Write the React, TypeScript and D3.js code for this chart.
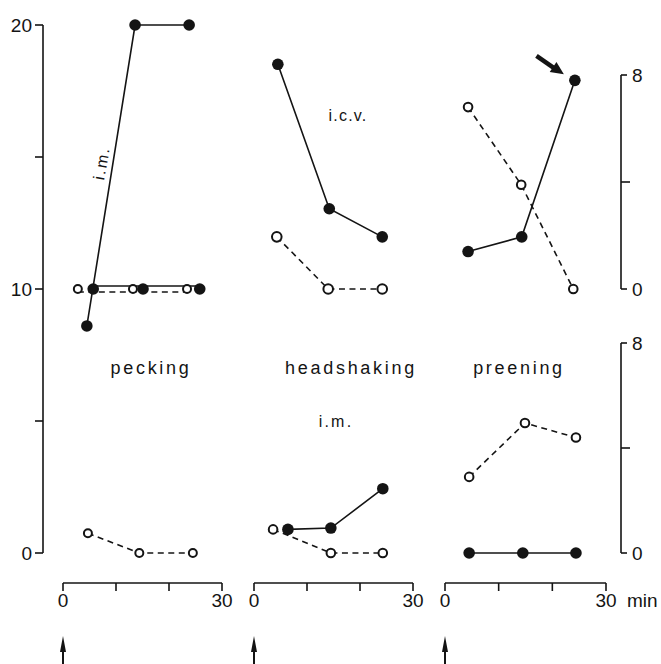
import React from "react";
import * as d3 from "d3";

// ---- data (times in min, values in axis units) ----
const panels = ["pecking", "headshaking", "preening"];
const xTicks = [0, 10, 20, 30];
const leftTicks = [0, 5, 10, 15, 20];
const leftLabels = [0, 10, 20];
const rightTicks = [0, 4, 8];
const rightLabels = [0, 8];

// pecking (left axis 0-20)
const peckImT = [4.5, 13.6, 23.8];
const peckImV = [8.6, 20, 20];
const peckFilledT = [5.7, 15.1, 25.8];
const peckFilledV = [10, 10, 10];
const peckOpenT = [2.8, 13.2, 23.4];
const peckOpenV = [10, 10, 10];
const peckLowOpenT = [4.7, 14.4, 24.5];
const peckLowOpenV = [0.75, 0, 0];

// headshaking upper (right upper axis 0-8)
const headUpFilledT = [4.5, 14.2, 24.2];
const headUpFilledV = [8.4, 3.0, 1.95];
const headUpOpenT = [4.3, 14.0, 24.2];
const headUpOpenV = [1.95, 0, 0];
// headshaking lower (right lower axis 0-8)
const headLowFilledT = [6.4, 14.5, 24.3];
const headLowFilledV = [0.9, 0.95, 2.45];
const headLowOpenT = [3.6, 14.5, 24.3];
const headLowOpenV = [0.9, 0, 0];

// preening upper
const preUpFilledT = [4.3, 14.3, 24.2];
const preUpFilledV = [1.4, 1.95, 7.8];
const preUpOpenT = [4.3, 14.2, 23.9];
const preUpOpenV = [6.8, 3.9, 0];
// preening lower
const preLowFilledT = [4.5, 14.5, 24.4];
const preLowFilledV = [0, 0, 0];
const preLowOpenT = [4.5, 14.9, 24.4];
const preLowOpenV = [2.9, 4.95, 4.4];

const INK = "#141414";
const FONT = "'Liberation Sans', Arial, sans-serif";

export default function App() {
  const W = 661, H = 664;
  const xs = [
    d3.scaleLinear().domain([0, 30]).range([63, 222]),
    d3.scaleLinear().domain([0, 30]).range([254, 413]),
    d3.scaleLinear().domain([0, 30]).range([445, 606]),
  ];
  const yLeft = d3.scaleLinear().domain([0, 20]).range([553, 25]);
  const yUR = d3.scaleLinear().domain([0, 8]).range([289, 75]);
  const yLR = d3.scaleLinear().domain([0, 8]).range([553, 343]);
  const axisY = 583;
  const leftX = 43;
  const rightX = 621;

  const pts = (t: number[], v: number[], x: any, y: any) =>
    t.map((d, i) => [x(d), y(v[i])] as [number, number]);
  const line = d3.line<[number, number]>();

  type S = { p: [number, number][]; filled: boolean; dy?: number; r?: number };
  const series: S[] = [
    { p: pts(peckImT, peckImV, xs[0], yLeft), filled: true },
    { p: pts(peckFilledT, peckFilledV, xs[0], yLeft), filled: true, dy: -3 },
    { p: pts(peckOpenT, peckOpenV, xs[0], yLeft), filled: false, dy: 3, r: 4 },
    { p: pts(peckLowOpenT, peckLowOpenV, xs[0], yLR), filled: false, r: 4 },
    { p: pts(headUpOpenT, headUpOpenV, xs[1], yUR), filled: false, r: 4.8 },
    { p: pts(headUpFilledT, headUpFilledV, xs[1], yUR), filled: true },
    { p: pts(headLowOpenT, headLowOpenV, xs[1], yLR), filled: false, r: 4.3 },
    { p: pts(headLowFilledT, headLowFilledV, xs[1], yLR), filled: true },
    { p: pts(preUpOpenT, preUpOpenV, xs[2], yUR), filled: false, r: 4.3 },
    { p: pts(preUpFilledT, preUpFilledV, xs[2], yUR), filled: true },
    { p: pts(preLowOpenT, preLowOpenV, xs[2], yLR), filled: false, r: 4.3 },
    { p: pts(preLowFilledT, preLowFilledV, xs[2], yLR), filled: true },
  ];

  // annotation arrow pointing at preening filled last point
  const tx = xs[2](preUpFilledT[2]) - 11;
  const ty = yUR(preUpFilledV[2]) - 6;
  const dir = [0.83, 0.56];
  const perp = [-dir[1], dir[0]];
  const headLen = 13, headW = 6;
  const bx = tx - headLen * dir[0], by = ty - headLen * dir[1];

  const textStyle = { fontFamily: FONT, fill: INK } as const;

  return (
    <svg width={W} height={H} style={{ position: "absolute", left: 0, top: 0, background: "#fff" }}>
      <rect width={W} height={H} fill="#fff" />
      {/* left axis */}
      <line x1={leftX} x2={leftX} y1={yLeft(20)} y2={yLeft(0)} stroke={INK} strokeWidth={1.6} />
      {leftTicks.map((t) => (
        <line key={t} x1={leftX - 8} x2={leftX} y1={yLeft(t)} y2={yLeft(t)} stroke={INK} strokeWidth={1.6} />
      ))}
      {leftLabels.map((t) => (
        <text key={t} x={leftX - 11} y={yLeft(t) + 7} textAnchor="end" fontSize={19} style={textStyle}>{t}</text>
      ))}
      {/* right axes */}
      {[yUR, yLR].map((ys, k) => (
        <g key={k}>
          <line x1={rightX} x2={rightX} y1={ys(8)} y2={ys(0)} stroke={INK} strokeWidth={1.6} />
          {rightTicks.map((t) => (
            <line key={t} x1={rightX} x2={rightX + (t === 4 ? 9 : 6)} y1={ys(t)} y2={ys(t)} stroke={INK} strokeWidth={1.6} />
          ))}
          {rightLabels.map((t) => (
            <text key={t} x={rightX + 11} y={ys(t) + 7} fontSize={19} style={textStyle}>{t}</text>
          ))}
        </g>
      ))}
      {/* x axes */}
      {xs.map((x, k) => (
        <g key={k}>
          <line x1={x(0)} x2={x(30)} y1={axisY} y2={axisY} stroke={INK} strokeWidth={1.6} />
          {xTicks.map((t) => (
            <line key={t} x1={x(t)} x2={x(t)} y1={axisY} y2={axisY + 8} stroke={INK} strokeWidth={1.6} />
          ))}
          <text x={x(0)} y={axisY + 24} textAnchor="middle" fontSize={19} style={textStyle}>0</text>
          <text x={x(30)} y={axisY + 24} textAnchor="middle" fontSize={19} style={textStyle}>30</text>
          {/* stimulus arrow */}
          <line x1={x(0)} x2={x(0)} y1={H} y2={645} stroke={INK} strokeWidth={2} />
          <path d={`M${x(0)},636 L${x(0) - 3},652 L${x(0) + 3},652 Z`} fill={INK} />
        </g>
      ))}
      <text x={xs[2](30) + 21} y={axisY + 24} fontSize={19} style={textStyle}>min</text>

      {/* series lines */}
      {series.map((s, i) => (
        <path
          key={"l" + i}
          d={line(s.p) || ""}
          transform={s.dy ? `translate(0,${s.dy})` : undefined}
          fill="none"
          stroke={INK}
          strokeWidth={1.6}
          strokeDasharray={s.filled ? undefined : "6,4.5"}
        />
      ))}
      {/* markers */}
      {series.map((s, i) =>
        s.p.map((p, j) =>
          s.filled ? (
            <circle key={`m${i}-${j}`} cx={p[0]} cy={p[1]} r={5.8} fill={INK} />
          ) : (
            <circle key={`m${i}-${j}`} cx={p[0]} cy={p[1]} r={s.r || 4.3} fill="#fff" stroke={INK} strokeWidth={2} />
          )
        )
      )}

      {/* annotation arrow */}
      <line x1={bx - 20 * dir[0]} y1={by - 20 * dir[1]} x2={bx + 1} y2={by + 1} stroke={INK} strokeWidth={4.5} />
      <path
        d={`M${tx},${ty} L${bx + headW * perp[0]},${by + headW * perp[1]} L${bx - headW * perp[0]},${by - headW * perp[1]} Z`}
        fill={INK}
      />

      {/* labels */}
      {panels.map((p, k) => (
        <text key={p} x={[151, 351, 519][k]} y={374} textAnchor="middle" fontSize={18} letterSpacing={2.7} style={textStyle}>{p}</text>
      ))}
      <text x={348} y={121} textAnchor="middle" fontSize={16} letterSpacing={1.2} style={textStyle}>i.c.v.</text>
      <text x={336} y={427} textAnchor="middle" fontSize={16} letterSpacing={2.2} style={textStyle}>i.m.</text>
      <text transform="translate(107,164) rotate(-80)" textAnchor="middle" fontSize={16} letterSpacing={2} style={textStyle}>i.m.</text>
    </svg>
  );
}
